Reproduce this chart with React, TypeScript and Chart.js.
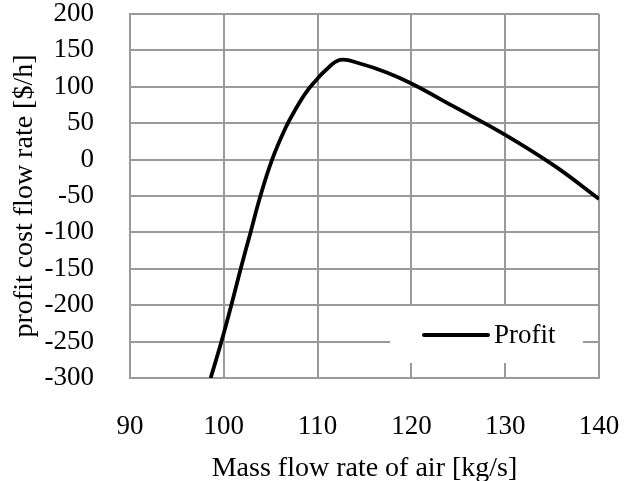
import React, { useEffect, useRef } from "react";
import { Chart, registerables } from "chart.js";

Chart.register(...registerables);

const massFlow = [98.6, 99.75, 100.8, 101.8, 102.85, 103.9, 105.15, 106.6, 107.6, 108.7, 109.7, 110.8, 112.4, 114.5, 117.3, 120.0, 124.5, 130.0, 135.3, 140.0];
const profit = [-300, -250, -200, -150, -100, -50, 0, 44, 68, 91, 107, 122, 137, 132, 120, 104.5, 73, 34, -9, -54];
const seriesLabel = "Profit";
const xTitle = "Mass flow rate of air [kg/s]";
const yTitle = "profit cost flow rate [$/h]";
const xMin = 90, xMax = 140, xStep = 10;
const yMin = -300, yMax = 200, yStep = 50;

const FONT = "'Liberation Serif', 'Times New Roman', serif";
const GRID = "#9a9a9a";

const insideLegend = {
  id: "insideLegend",
  beforeDatasetsDraw(chart: any) {
    const { ctx, chartArea } = chart;
    const ds = chart.data.datasets[0];
    const w = 193, h = 57;
    const x0 = chartArea.right - 16 - w;
    const y0 = chartArea.bottom - 15 - h;
    ctx.save();
    ctx.fillStyle = "#ffffff";
    ctx.fillRect(x0, y0, w, h);
    const ly = y0 + 29;
    ctx.strokeStyle = "#000";
    ctx.lineWidth = 4;
    ctx.lineCap = "round";
    ctx.beginPath();
    ctx.moveTo(x0 + 34, ly);
    ctx.lineTo(x0 + 98, ly);
    ctx.stroke();
    ctx.fillStyle = "#000";
    ctx.font = "27px " + FONT;
    ctx.textBaseline = "middle";
    ctx.textAlign = "left";
    ctx.fillText(ds.label, x0 + 104, ly + 1);
    ctx.restore();
  },
};

export default function App() {
  const ref = useRef<HTMLCanvasElement>(null);
  useEffect(() => {
    if (!ref.current) return;
    const chart = new Chart(ref.current, {
      type: "line",
      data: {
        datasets: [
          {
            label: seriesLabel,
            data: massFlow.map((x, i) => ({ x, y: profit[i] })),
            borderColor: "#000",
            borderWidth: 3.8,
            pointRadius: 0,
            tension: 0.4,
            fill: false,
          },
        ],
      },
      options: {
        responsive: false,
        animation: false,
        layout: { padding: { left: 0, top: 14, right: 36, bottom: 0 } },
        plugins: { legend: { display: false }, tooltip: { enabled: false } },
        scales: {
          x: {
            type: "linear",
            min: xMin,
            max: xMax,
            ticks: { stepSize: xStep, autoSkip: false, color: "#000", font: { family: FONT, size: 27 }, padding: 33, maxRotation: 0 },
            grid: { color: GRID, lineWidth: 2, drawTicks: false },
            border: { color: GRID, width: 2 },
            title: { display: true, text: xTitle, color: "#000", font: { family: FONT, size: 28 }, padding: { top: 0, bottom: -4 } },
            afterFit: (s: any) => { s.height = 103; s.paddingLeft = 0; s.paddingRight = 0; },
          },
          y: {
            type: "linear",
            min: yMin,
            max: yMax,
            ticks: { stepSize: yStep, autoSkip: false, color: "#000", font: { family: FONT, size: 27 }, padding: 36 },
            grid: { color: GRID, lineWidth: 2, drawTicks: false },
            border: { color: GRID, width: 2 },
            title: { display: true, text: yTitle, color: "#000", font: { family: FONT, size: 28 }, padding: { top: 8, bottom: 0 } },
            afterFit: (s: any) => { s.width = 130; s.paddingTop = 0; s.paddingBottom = 0; },
          },
        },
      },
      plugins: [insideLegend],
    });
    return () => chart.destroy();
  }, []);
  return (
    <div style={{ position: "fixed", left: 0, top: 0, width: 635, height: 481, background: "#fff" }}>
      <canvas ref={ref} width={635} height={481} style={{ display: "block" }} />
    </div>
  );
}
